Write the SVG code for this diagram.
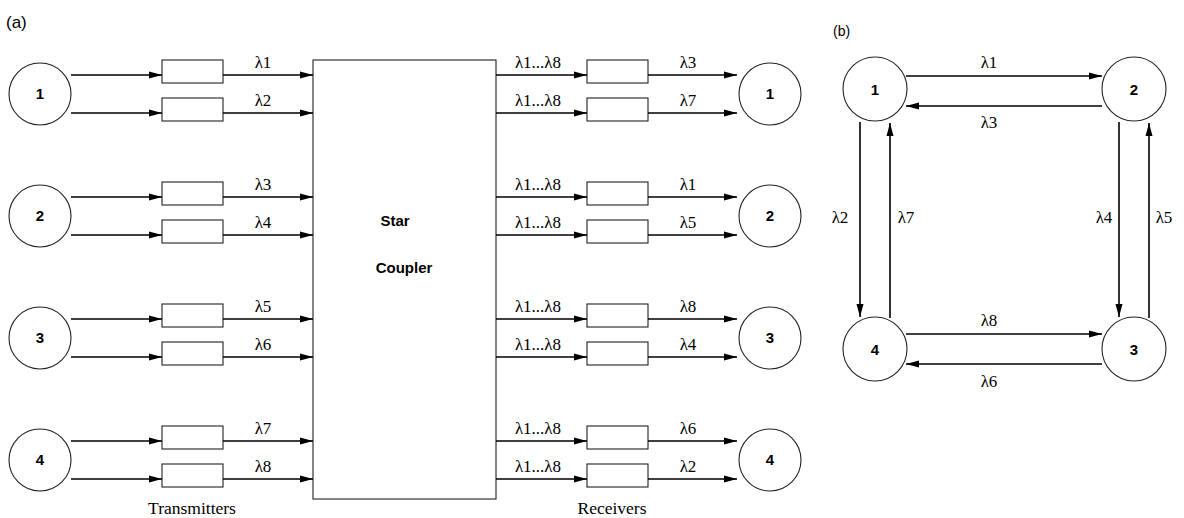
<svg xmlns="http://www.w3.org/2000/svg" width="1184" height="518" viewBox="0 0 1184 518">
  <style>
    .node { fill: #fff; stroke: #222; stroke-width: 1.1; }
    .box { fill: #fff; stroke: #222; stroke-width: 1.1; }
    .wire { stroke: #000; stroke-width: 1.6; fill: none; }
    .arr { marker-end: url(#head); }
    .num { font-family: "Liberation Sans", Arial, sans-serif; font-weight: bold; font-size: 15px; text-anchor: middle; }
    .lam { font-family: "Liberation Serif", "DejaVu Serif", "Times New Roman", serif; font-size: 17px; text-anchor: middle; }
    .cap { font-family: "Liberation Sans", Arial, sans-serif; font-size: 17px; }
    .capb { font-family: "Liberation Sans", Arial, sans-serif; font-size: 14px; }
    .title { font-family: "Liberation Sans", Arial, sans-serif; font-weight: bold; font-size: 15px; text-anchor: middle; }
    .foot { font-family: "Liberation Serif", "Times New Roman", serif; font-size: 17.5px; text-anchor: middle; }
  </style>
  <defs>
    <marker id="head" markerUnits="userSpaceOnUse" markerWidth="14" markerHeight="8" refX="13" refY="4" orient="auto">
      <path d="M0,0.5 L13,4 L0,7.5 z" fill="#000"/>
    </marker>
  </defs>

  <text class="cap" x="6" y="28">(a)</text>
  <text class="capb" x="833" y="36">(b)</text>

  <!-- (a) broadcast-and-select network -->
  <g id="coupler">
    <rect class="box" x="313" y="60" width="183" height="439"/>
    <text class="title" x="395" y="226">Star</text>
    <text class="title" x="404" y="273">Coupler</text>
  </g>

  <g id="tx1"><circle class="node" cx="40" cy="94" r="31"/><text class="num" x="40" y="99">1</text></g>
  <g id="tx2"><circle class="node" cx="40" cy="216" r="31"/><text class="num" x="40" y="221">2</text></g>
  <g id="tx3"><circle class="node" cx="40" cy="338" r="31"/><text class="num" x="40" y="343">3</text></g>
  <g id="tx4"><circle class="node" cx="40" cy="460" r="31"/><text class="num" x="40" y="465">4</text></g>

  <g id="rx1"><circle class="node" cx="770" cy="94" r="31"/><text class="num" x="770" y="99">1</text></g>
  <g id="rx2"><circle class="node" cx="770" cy="216" r="31"/><text class="num" x="770" y="221">2</text></g>
  <g id="rx3"><circle class="node" cx="770" cy="338" r="31"/><text class="num" x="770" y="343">3</text></g>
  <g id="rx4"><circle class="node" cx="770" cy="460" r="31"/><text class="num" x="770" y="465">4</text></g>

  <g id="transmitters">
    <rect class="box" x="162" y="60" width="61" height="23"/>
    <rect class="box" x="162" y="98" width="61" height="23"/>
    <rect class="box" x="162" y="182" width="61" height="23"/>
    <rect class="box" x="162" y="220" width="61" height="23"/>
    <rect class="box" x="162" y="304" width="61" height="23"/>
    <rect class="box" x="162" y="342" width="61" height="23"/>
    <rect class="box" x="162" y="426" width="61" height="23"/>
    <rect class="box" x="162" y="464" width="61" height="23"/>
  </g>
  <g id="receivers">
    <rect class="box" x="587" y="60" width="61" height="23"/>
    <rect class="box" x="587" y="98" width="61" height="23"/>
    <rect class="box" x="587" y="182" width="61" height="23"/>
    <rect class="box" x="587" y="220" width="61" height="23"/>
    <rect class="box" x="587" y="304" width="61" height="23"/>
    <rect class="box" x="587" y="342" width="61" height="23"/>
    <rect class="box" x="587" y="426" width="61" height="23"/>
    <rect class="box" x="587" y="464" width="61" height="23"/>
  </g>

  <g id="connectors">
    <!-- transmitter side -->
    <path class="wire arr" d="M71,75 H162"/><path class="wire arr" d="M223,75 H313"/>
    <path class="wire arr" d="M71,113 H162"/><path class="wire arr" d="M223,113 H313"/>
    <path class="wire arr" d="M71,197 H162"/><path class="wire arr" d="M223,197 H313"/>
    <path class="wire arr" d="M71,235 H162"/><path class="wire arr" d="M223,235 H313"/>
    <path class="wire arr" d="M71,319 H162"/><path class="wire arr" d="M223,319 H313"/>
    <path class="wire arr" d="M71,357 H162"/><path class="wire arr" d="M223,357 H313"/>
    <path class="wire arr" d="M71,441 H162"/><path class="wire arr" d="M223,441 H313"/>
    <path class="wire arr" d="M71,479 H162"/><path class="wire arr" d="M223,479 H313"/>
    <!-- receiver side -->
    <path class="wire arr" d="M496,75 H587"/><path class="wire arr" d="M648,75 H737"/>
    <path class="wire arr" d="M496,113 H587"/><path class="wire arr" d="M648,113 H737"/>
    <path class="wire arr" d="M496,197 H587"/><path class="wire arr" d="M648,197 H737"/>
    <path class="wire arr" d="M496,235 H587"/><path class="wire arr" d="M648,235 H737"/>
    <path class="wire arr" d="M496,319 H587"/><path class="wire arr" d="M648,319 H737"/>
    <path class="wire arr" d="M496,357 H587"/><path class="wire arr" d="M648,357 H737"/>
    <path class="wire arr" d="M496,441 H587"/><path class="wire arr" d="M648,441 H737"/>
    <path class="wire arr" d="M496,479 H587"/><path class="wire arr" d="M648,479 H737"/>

    <!-- (b) logical ring -->
    <path class="wire arr" d="M906,76 H1102"/>
    <path class="wire arr" d="M1102,106 H906"/>
    <path class="wire arr" d="M906,334 H1102"/>
    <path class="wire arr" d="M1102,364 H906"/>
    <path class="wire arr" d="M860,122 V317"/>
    <path class="wire arr" d="M890,318 V123"/>
    <path class="wire arr" d="M1119,122 V317"/>
    <path class="wire arr" d="M1149,318 V123"/>
  </g>

  <g id="wavelength-labels">
    <text class="lam" x="263" y="68">λ1</text>
    <text class="lam" x="263" y="106">λ2</text>
    <text class="lam" x="263" y="190">λ3</text>
    <text class="lam" x="263" y="228">λ4</text>
    <text class="lam" x="263" y="312">λ5</text>
    <text class="lam" x="263" y="350">λ6</text>
    <text class="lam" x="263" y="434">λ7</text>
    <text class="lam" x="263" y="472">λ8</text>

    <text class="lam" x="538" y="68">λ1...λ8</text>
    <text class="lam" x="538" y="106">λ1...λ8</text>
    <text class="lam" x="538" y="190">λ1...λ8</text>
    <text class="lam" x="538" y="228">λ1...λ8</text>
    <text class="lam" x="538" y="312">λ1...λ8</text>
    <text class="lam" x="538" y="350">λ1...λ8</text>
    <text class="lam" x="538" y="434">λ1...λ8</text>
    <text class="lam" x="538" y="472">λ1...λ8</text>

    <text class="lam" x="688" y="68">λ3</text>
    <text class="lam" x="688" y="106">λ7</text>
    <text class="lam" x="688" y="190">λ1</text>
    <text class="lam" x="688" y="228">λ5</text>
    <text class="lam" x="688" y="312">λ8</text>
    <text class="lam" x="688" y="350">λ4</text>
    <text class="lam" x="688" y="434">λ6</text>
    <text class="lam" x="688" y="472">λ2</text>

    <text class="lam" x="989" y="68">λ1</text>
    <text class="lam" x="989" y="128">λ3</text>
    <text class="lam" x="989" y="326">λ8</text>
    <text class="lam" x="989" y="387">λ6</text>
    <text class="lam" x="840" y="223">λ2</text>
    <text class="lam" x="906" y="223">λ7</text>
    <text class="lam" x="1104" y="223">λ4</text>
    <text class="lam" x="1164" y="223">λ5</text>
  </g>

  <text class="foot" x="192" y="514">Transmitters</text>
  <text class="foot" x="612" y="514">Receivers</text>

  <!-- (b) nodes -->
  <g id="ring1"><circle class="node" cx="875" cy="89" r="32"/><text class="num" x="875" y="95">1</text></g>
  <g id="ring2"><circle class="node" cx="1134" cy="89" r="32"/><text class="num" x="1134" y="95">2</text></g>
  <g id="ring3"><circle class="node" cx="1134" cy="349" r="32"/><text class="num" x="1134" y="355">3</text></g>
  <g id="ring4"><circle class="node" cx="875" cy="349" r="32"/><text class="num" x="875" y="355">4</text></g>
</svg>
